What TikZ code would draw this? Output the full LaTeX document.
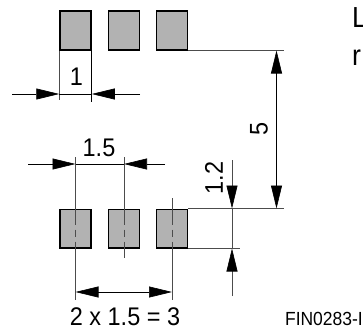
\documentclass[tikz,border=0pt]{standalone}
\usepackage{fontspec}
\setmainfont[FakeStretch=0.92]{Liberation Sans}
\usetikzlibrary{arrows.meta}
\begin{document}
\begin{tikzpicture}[x=1pt,y=-1pt,
        pad/.style={draw,fill={rgb,255:red,178;green,178;blue,178},line width=1.5pt,minimum width=31pt,minimum height=38.5pt,inner sep=0pt},
        extline/.style={line width=0.6pt,draw=black!70},
        dimline/.style={line width=0.6pt,-{Triangle[length=23pt,width=11pt,black]}},
        dimtext/.style={inner sep=0pt,font=\fontsize{25.5}{25.5}\selectfont},
        padmark/.style={line width=0.8pt,draw=black!70,dash pattern=on 16pt off 5pt on 7pt off 5pt on 16pt}
    ]
        \useasboundingbox (0,0) rectangle (363,329);
        \clip (0,0) rectangle (363,329);
        % pads
        \foreach \n/\x in {1/75.5,2/124,3/172} {
            \node[pad] (top\n) at (\x,30.5) {};
            \node[pad] (bot\n) at (\x,228.5) {};
        }
        % width of a pad
        \coordinate (wa) at (top1.south west |- 0,100);
        \coordinate (wb) at (top1.south east |- 0,102);
        \draw[extline] (top1.south west) -- (wa);
        \draw[extline,black] (top1.south east) -- (wb);
        \coordinate (wl) at (12,94);
        \coordinate (wr) at (140,94);
        \draw[dimline] (wl) -- (top1.south west |- wl);
        \draw[dimline] (wr) -- (top1.south east |- wl);
        \draw[line width=0.6pt] (top1.south west |- wl) -- (top1.south east |- wl);
        \node[dimtext] (wtext) at (76.5,76.5) {1};
        % pitch
        \coordinate (pa) at (bot1 |- 0,157);
        \coordinate (pb) at (bot2 |- 0,157);
        \coordinate (pc) at (bot3 |- 0,198);
        \coordinate (pd) at (bot1 |- 0,300);
        \coordinate (pe) at (bot2 |- 0,258);
        \coordinate (pf) at (bot3 |- 0,300);
        \foreach \n/\s/\e in {1/pa/pd,2/pb/pe,3/pc/pf} {
            \draw[extline] (\s) -- (bot\n.north);
            \draw[padmark] (bot\n.north) -- (bot\n.south);
            \draw[extline] (bot\n.south) -- (\e);
        }
        \coordinate (pl) at (28,164);
        \coordinate (pr) at (165,164);
        \draw[dimline] (pl) -- (bot1 |- pl);
        \draw[dimline] (pr) -- (bot2 |- pl);
        \draw[line width=0.6pt] (bot1 |- pl) -- (bot2 |- pl);
        \node[dimtext] (ptext) at (99,147.5) {1.5};
        % total pitch
        \coordinate (tm) at (124,292);
        \draw[dimline] (tm) -- (bot1 |- tm);
        \draw[dimline] (tm) -- (bot3 |- tm);
        \node[dimtext] (ttext) at (125,316.5) {2 x 1.5 = 3};
        % distance between rows
        \coordinate (ra) at (284,0 |- top3.south);
        \coordinate (rb) at (284,0 |- bot3.north);
        \coordinate (rc) at (240,0 |- bot3.south);
        \draw[extline] (top3.south east) -- (ra);
        \draw[extline] (bot3.north east) -- (rb);
        \draw[extline] (bot3.south east) -- (rc);
        \coordinate (rm) at (276.5,128);
        \draw[dimline] (rm) -- (rm |- ra);
        \draw[dimline] (rm) -- (rm |- rb);
        \node[dimtext,rotate=90] (rtext) at (259,128.5) {5};
        % pad length
        \coordinate (la) at (232,160);
        \coordinate (lb) at (232,296);
        \draw[dimline,draw=black!70] (la) -- (la |- rb);
        \draw[dimline,draw=black!70] (lb) -- (la |- rc);
        \draw[extline] (la |- rb) -- (la |- rc);
        \node[dimtext,rotate=90] (ltext) at (214,178) {1.2};
        % text at the edges
        \node[inner sep=0pt,anchor=base west,font=\fontsize{29}{29}\selectfont] (cutl) at (352,28) {L};
        \node[inner sep=0pt,anchor=base west,font=\fontsize{29}{29}\selectfont] (cutr) at (352,65) {r};
        \node[inner sep=0pt,anchor=base east,font=\fontsize{19}{19}\selectfont] (fin) at (363,325) {FIN0283-I};
    \end{tikzpicture}
\end{document}
